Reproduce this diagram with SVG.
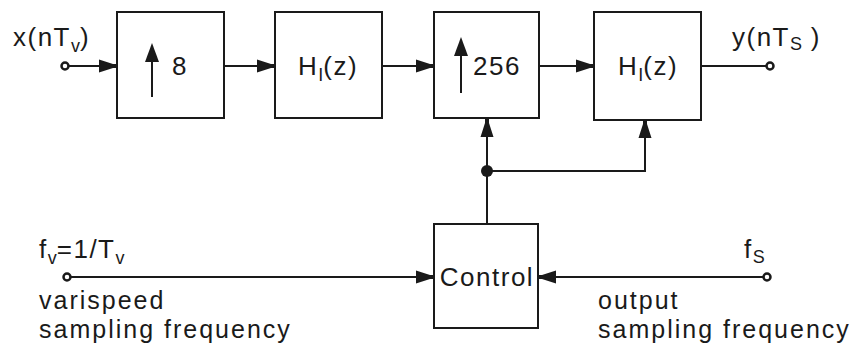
<svg xmlns="http://www.w3.org/2000/svg" width="857" height="352" viewBox="0 0 857 352">
<style>
.box{fill:#fff;stroke:#1a1a1a;stroke-width:2}
.ln{fill:none;stroke:#1a1a1a;stroke-width:2}
.t{font-family:"Liberation Sans",Arial,sans-serif;font-size:26px;letter-spacing:1.5px;fill:#1a1a1a}
.s{font-size:25px;letter-spacing:2px}
.sub{font-size:18px;letter-spacing:0}
.port{fill:#fff;stroke:#1a1a1a;stroke-width:2.5}
</style>
<defs>
<marker id="arr" markerUnits="userSpaceOnUse" markerWidth="20" markerHeight="16" viewBox="-18 -8 20 16" refX="0" refY="0" orient="auto">
<path d="M-18,-6.5 L-4,-2 L0,-2 L0,2 L-4,2 L-18,6.5 Z" fill="#1a1a1a"/>
</marker>
</defs>

<g id="connectors">
<line class="ln" x1="65" y1="66" x2="117" y2="66" marker-end="url(#arr)"/>
<line class="ln" x1="224" y1="66" x2="275" y2="66" marker-end="url(#arr)"/>
<line class="ln" x1="382" y1="66" x2="434" y2="66" marker-end="url(#arr)"/>
<line class="ln" x1="539" y1="66" x2="594" y2="66" marker-end="url(#arr)"/>
<line class="ln" x1="701" y1="66" x2="770" y2="66"/>
<line class="ln" x1="487" y1="224" x2="487" y2="119" marker-end="url(#arr)"/>
<polyline class="ln" points="487,171 645,171 645,120" marker-end="url(#arr)"/>
<line class="ln" x1="67" y1="277" x2="434" y2="277" marker-end="url(#arr)"/>
<line class="ln" x1="767" y1="277" x2="538" y2="277" marker-end="url(#arr)"/>
<circle cx="487" cy="171" r="6" fill="#1a1a1a"/>
</g>

<g id="in-x">
<circle class="port" cx="65" cy="66" r="3.5"/>
<text class="t" x="13" y="46">x(nT<tspan class="sub" dy="6">v</tspan><tspan dy="-6">)</tspan></text>
</g>

<g id="up8">
<rect class="box" x="117" y="12" width="107" height="106"/>
<line class="ln" x1="152" y1="97" x2="152" y2="58"/>
<path d="M152,43 L159,62 L145,62 Z" fill="#1a1a1a"/>
<text class="t" x="172" y="75">8</text>
</g>

<g id="hi1">
<rect class="box" x="275" y="12" width="107" height="106"/>
<text class="t" x="328" y="75" text-anchor="middle">H<tspan class="sub" dy="6">I</tspan><tspan dy="-6">(z)</tspan></text>
</g>

<g id="up256">
<rect class="box" x="434" y="12" width="105" height="106"/>
<line class="ln" x1="461" y1="93" x2="461" y2="52"/>
<path d="M461,37 L468,56 L454,56 Z" fill="#1a1a1a"/>
<text class="t" x="473" y="75">256</text>
</g>

<g id="hi2">
<rect class="box" x="594" y="12" width="107" height="108"/>
<text class="t" x="648" y="75" text-anchor="middle">H<tspan class="sub" dy="6">I</tspan><tspan dy="-6">(z)</tspan></text>
</g>

<g id="out-y">
<circle class="port" cx="770" cy="66" r="3.5"/>
<text class="t" x="732" y="46">y(nT<tspan class="sub" dy="4">S</tspan><tspan dy="-4"> )</tspan></text>
</g>

<g id="control">
<rect class="box" x="434" y="224" width="104" height="104"/>
<text class="t" x="487" y="286" text-anchor="middle">Control</text>
</g>

<g id="in-fv">
<circle class="port" cx="67" cy="277" r="3.5"/>
<text class="t" x="39" y="258">f<tspan class="sub" dy="6">v</tspan><tspan dy="-6">=1/T</tspan><tspan class="sub" dy="6">v</tspan></text>
<text class="t s" x="39" y="309">varispeed</text>
<text class="t s" x="39" y="338">sampling frequency</text>
</g>

<g id="in-fs">
<circle class="port" cx="767" cy="277" r="3.5"/>
<text class="t" x="744" y="258">f<tspan class="sub" dy="5">S</tspan></text>
<text class="t s" x="598" y="309">output</text>
<text class="t s" x="598" y="338">sampling frequency</text>
</g>
</svg>
